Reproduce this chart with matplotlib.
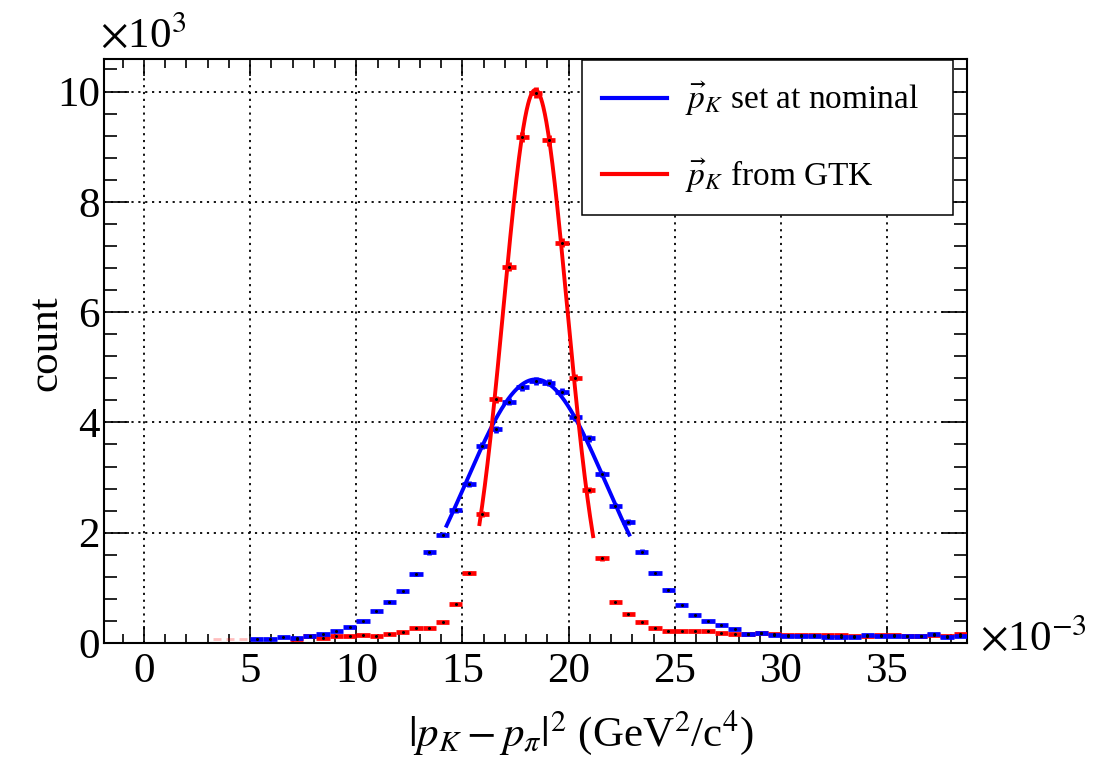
import numpy as np
import matplotlib
matplotlib.use('Agg')
import matplotlib.pyplot as plt
from matplotlib.ticker import MultipleLocator, FuncFormatter

plt.rcParams['font.family'] = ['Liberation Serif', 'DejaVu Serif']
plt.rcParams['mathtext.fontset'] = 'stix'

# ---------------- data ----------------
# histogram binning in GeV^2/c^4
bin_lo, bin_hi, n_bins = 0.0, 0.04, 64
nan = np.nan

blue_counts = [nan, nan, nan, nan, nan, nan, nan, nan,
               72, 65, 100, 91, 124, 172, 220, 296, 399, 580,
               749, 937, 1245, 1644, 1964, 2405, 2877, 3578, 3877, 4375,
               4636, 4756, 4720, 4556, 4092, 3711, 3058, 2489, 2194, 1655,
               1263, 961, 697, 508, 393, 330, 251, 163, 187, 151,
               127, 131, 133, 115, 115, 115, 139, 127, 127, 121,
               133, 157, 109, 127, nan, nan]

red_counts = [nan, nan, nan, nan, nan, nan, nan, nan, nan, nan, nan,
              72, 118, 91, 118, 133, 154, 133, 166, 199,
              266, 278, 387, 707, 1263, 2339, 4420, 6822, 9179, 9977,
              9114, 7258, 4814, 2774, 1535, 749, 526, 387, 266, 224,
              223, 220, 220, 190, 166, 157, 187, 163, 139, 151,
              139, 145, 151, 127, 127, 139, 151, 127, 127, 139,
              127, 157, nan, nan]

red_faint_bins = [5, 6, 7]
red_faint_counts = [70, 70, 70]

# Gaussian fits: amplitude, mean, sigma, fit range
blue_fit = dict(amp=4780, mean=0.01845, sigma=0.0033, lo=0.01425, hi=0.02285)
red_fit = dict(amp=10030, mean=0.01843, sigma=0.00150, lo=0.0158, hi=0.02115)

label_blue = r'$\vec{p}_K$ set at nominal'
label_red = r'$\vec{p}_K$ from GTK'
xlabel = r'$|p_K - p_\pi|^2$ (GeV$^2$/c$^4$)'
ylabel = 'count'

# ---------------- plot ----------------
edges = np.linspace(bin_lo, bin_hi, n_bins + 1)
centers = 0.5 * (edges[:-1] + edges[1:])
bw = edges[1] - edges[0]

fig = plt.figure(figsize=(10.98, 7.6), dpi=100)
ax = fig.add_axes([104 / 1098, 1 - 643 / 760, (967 - 104) / 1098, (643 - 59) / 760])

BLUE = '#0000ff'
RED = '#ff0000'
ELW = 3.4


def draw_hist(counts, color, z, faint=False, idx=None):
    c = np.asarray(counts, dtype=float)
    x = centers if idx is None else centers[idx]
    m = ~np.isnan(c)
    if faint:
        ax.errorbar(x[m], c[m], xerr=bw * 0.3, fmt='none', ecolor=color,
                    elinewidth=2.0, capsize=0, zorder=z, alpha=0.25)
        return
    ax.errorbar(x[m], c[m], xerr=bw / 2, yerr=np.sqrt(c[m]), fmt='none',
                ecolor=color, elinewidth=ELW, capsize=0, zorder=z)
    ax.plot(x[m], c[m], linestyle='none', marker='o', ms=1.2,
            color='black', zorder=9)


draw_hist(red_faint_counts, RED, 3, faint=True, idx=np.array(red_faint_bins))
draw_hist(red_counts, RED, 3)
draw_hist(blue_counts, BLUE, 4)


def gauss_curve(p):
    xx = np.linspace(p['lo'], p['hi'], 300)
    return xx, p['amp'] * np.exp(-0.5 * ((xx - p['mean']) / p['sigma']) ** 2)


xb, yb = gauss_curve(blue_fit)
xr, yr = gauss_curve(red_fit)
lb, = ax.plot(xb, yb, color=BLUE, lw=2.8, zorder=5, label=label_blue)
lr, = ax.plot(xr, yr, color=RED, lw=2.8, zorder=6, label=label_red)

ax.set_xlim(-0.001875, 0.03875)
ax.set_ylim(0, 10590)

ax.xaxis.set_major_locator(MultipleLocator(0.005))
ax.xaxis.set_minor_locator(MultipleLocator(0.001))
ax.yaxis.set_major_locator(MultipleLocator(2000))
ax.yaxis.set_minor_locator(MultipleLocator(400))
ax.xaxis.set_major_formatter(FuncFormatter(lambda v, p: f'{v * 1000:g}'))
ax.yaxis.set_major_formatter(FuncFormatter(lambda v, p: f'{v / 1000:g}'))

ax.tick_params(which='both', direction='in', top=True, right=True,
               labelsize=31, width=1.2, colors='black')
ax.tick_params(axis='x', which='major', length=12.5, pad=7)
ax.tick_params(axis='x', which='minor', length=6.5)
ax.tick_params(axis='y', which='major', length=18, pad=3)
ax.tick_params(axis='y', which='minor', length=9.5)

for s in ax.spines.values():
    s.set_linewidth(1.5)

ax.grid(True, which='major', color='black', linestyle=(0, (1.2, 2.6)), lw=1.3)
ax.set_axisbelow(True)

ax.set_xlabel(xlabel, fontsize=31)
ax.xaxis.set_label_coords(0.553, -0.112)
ax.set_ylabel(ylabel, fontsize=31)
ax.yaxis.set_label_coords(-0.045, 0.514)

fig.text(100 / 1098, 1 - 47 / 760, r'$\times$10$^3$', fontsize=31,
         ha='left', va='baseline')
fig.text(980 / 1098, 1 - 650 / 760, r'$\times$10$^{-3}$', fontsize=31,
         ha='left', va='baseline')

leg = ax.legend(handles=[lb, lr], loc='upper left',
                bbox_to_anchor=(0.554, 0.998, 0.43, 0.0), mode='expand',
                borderaxespad=0, fontsize=24, frameon=True, fancybox=False,
                edgecolor='black', framealpha=1.0, borderpad=0.6,
                labelspacing=1.15, handlelength=1.95, handletextpad=0.55)
leg.get_frame().set_linewidth(1.1)
for h in leg.get_lines():
    h.set_linewidth(3.0)
leg.set_zorder(20)

fig.savefig('out.png', dpi=100)
